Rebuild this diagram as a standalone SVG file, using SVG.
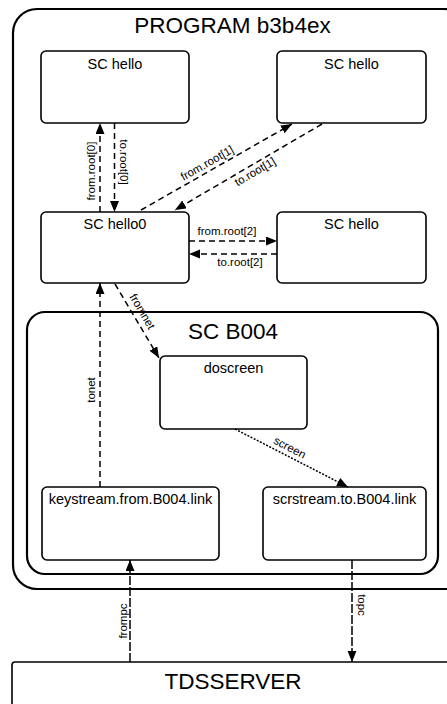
<svg xmlns="http://www.w3.org/2000/svg" width="447" height="704" viewBox="0 0 447 704">
<style>
.box{fill:#fff;stroke:#000;stroke-width:1.6}
.cont{fill:none;stroke:#000;stroke-width:2.2}
.nt{font-family:"Liberation Sans",Arial,sans-serif;font-size:14.5px;text-anchor:middle;fill:#000}
.tt{font-family:"Liberation Sans",Arial,sans-serif;font-size:22.5px;text-anchor:middle;fill:#000}
.lt{font-family:"Liberation Sans",Arial,sans-serif;font-size:11.5px;text-anchor:middle;fill:#000}
.c{fill:none;stroke:#000;stroke-width:1.5;stroke-dasharray:6,4;marker-end:url(#ah)}
.dot{stroke-dasharray:2,1.5}
.dd{stroke-dasharray:9,2}
</style>
<defs>
<marker id="ah" markerUnits="userSpaceOnUse" markerWidth="12" markerHeight="10" refX="11" refY="4.5" orient="auto">
<path d="M0,0 L11,4.5 L0,9 Z" fill="#000"/>
</marker>
</defs>
<rect width="447" height="704" fill="#fff"/>
<g id="program">
<rect class="cont" x="13" y="9" width="455" height="580" rx="24"/>
<text class="tt" x="232.5" y="33">PROGRAM b3b4ex</text>
</g>
<g id="hello_a">
<rect class="box" x="41" y="51" width="148" height="72" rx="5"/>
<text class="nt" x="115" y="69">SC hello</text>
</g>
<g id="hello_b">
<rect class="box" x="277" y="51" width="149" height="72" rx="5"/>
<text class="nt" x="351.5" y="69">SC hello</text>
</g>
<g id="hello0">
<rect class="box" x="41" y="212" width="148" height="71" rx="5"/>
<text class="nt" x="115" y="229">SC hello0</text>
</g>
<g id="hello_c">
<rect class="box" x="277" y="212" width="149" height="71" rx="5"/>
<text class="nt" x="351.5" y="229">SC hello</text>
</g>
<g id="b004">
<rect class="cont" x="27" y="312" width="411" height="262" rx="18"/>
<text class="tt" x="233" y="339">SC B004</text>
</g>
<g id="doscreen">
<rect class="box" x="160" y="356" width="147" height="73" rx="5"/>
<text class="nt" x="233.5" y="373">doscreen</text>
</g>
<g id="keystream">
<rect class="box" x="42" y="487" width="177" height="73" rx="5"/>
<text class="nt" x="130.5" y="504">keystream.from.B004.link</text>
</g>
<g id="scrstream">
<rect class="box" x="263" y="487" width="163" height="73" rx="5"/>
<text class="nt" x="344.5" y="504">scrstream.to.B004.link</text>
</g>
<g id="tdsserver">
<rect class="box" x="12" y="662" width="460" height="60" rx="3"/>
<text class="tt" x="233" y="689">TDSSERVER</text>
</g>
<g id="connectors">
<path class="c" d="M100,212 L100,123"/>
<text class="lt" transform="translate(95,171) rotate(-90)">from.root[0]</text>
<path class="c" d="M114.5,123 L114.5,212"/>
<text class="lt" transform="translate(119.5,162) rotate(90)">to.root[0]</text>
<path class="c" d="M141,210 L292,124"/>
<text class="lt" transform="translate(209,166.5) rotate(-29.7)">from.root[1]</text>
<path class="c" d="M322,124 L175,210"/>
<text class="lt" transform="translate(257,175) rotate(-30.3)">to.root[1]</text>
<path class="c" d="M189,241 L277,241"/>
<text class="lt" x="227" y="235">from.root[2]</text>
<path class="c" d="M277,254 L189,254"/>
<text class="lt" x="240" y="266">to.root[2]</text>
<path class="c" d="M115,284 L159,358"/>
<text class="lt" transform="translate(139,313.5) rotate(59.3)">fromnet</text>
<path class="c" d="M100,487 L100,283"/>
<text class="lt" transform="translate(95,390) rotate(-90)">tonet</text>
<path class="c dot" d="M235,429 L348,487"/>
<text class="lt" transform="translate(288,451) rotate(27.2)">screen</text>
<path class="c dd" d="M130,662 L130,560"/>
<text class="lt" transform="translate(127,621) rotate(-90)">frompc</text>
<path class="c dd" d="M352,560 L352,662"/>
<text class="lt" transform="translate(358,605) rotate(90)">topc</text>
</g>
</svg>
